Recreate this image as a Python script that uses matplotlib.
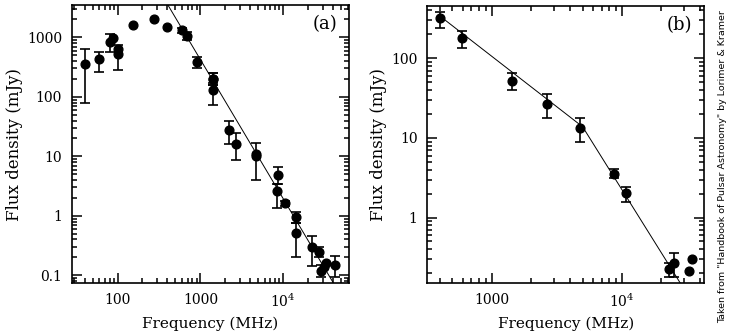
import numpy as np
import matplotlib.pyplot as plt
from matplotlib.ticker import FixedLocator, FuncFormatter, LogLocator, NullFormatter

plt.rcParams['font.family'] = 'DejaVu Serif'
plt.rcParams['mathtext.fontset'] = 'dejavuserif'

# panel (a): points with error bars (freq MHz, flux mJy, lower, upper)
a_freq = [40, 60, 81, 100, 1400, 592, 692, 912, 1400, 1400, 2228, 2656, 4700, 8550, 8500,
          10400, 14450, 14300, 22500, 27300, 28300, 42500]
a_flux = [360, 427, 845, 520, 200, 1328, 1067, 380, 200, 130, 27.7, 16.1, 10, 4.86, 2.65,
          1.62, 0.94, 0.51, 0.295, 0.244, 0.12, 0.149]
a_lo = [78, 265, 574, 282, 160, 1180, 900, 310, 160, 72, 16, 8.7, 4.0, 3.4, 1.34,
        1.45, 0.77, 0.206, 0.145, 0.2, 0.094, 0.094]
a_hi = [630, 574, 1123, 743, 255, 1450, 1250, 460, 255, 170, 39, 24.4, 17, 6.5, 3.4,
        1.8, 1.15, 0.75, 0.46, 0.3, 0.148, 0.207]
# panel (a): points without error bars
a_freq2 = [87, 102, 154, 273, 398, 4750, 30800, 33100]
a_flux2 = [986, 637, 1590, 2060, 1493, 11, 0.14, 0.159]
# fitted power law in (a)
a_fit_s1000 = 423
a_fit_index = -2.34

# panel (b)
b_freq = [400, 594, 1440, 2680, 4770, 8730, 10740, 23200, 25200]
b_flux = [318, 178, 52.3, 26.4, 13.2, 3.5, 2.01, 0.223, 0.27]
b_lo = [238, 134, 40, 17.9, 9.0, 3.1, 1.58, 0.18, 0.177]
b_hi = [385, 222, 65, 35.3, 17.6, 4.04, 2.4, 0.265, 0.36]
b_freq2 = [32700, 34800]
b_flux2 = [0.215, 0.303]
# broken power law in (b)
b_break = 5000
b_sbreak = 13.8
b_index1 = -1.27
b_index2 = -2.62


def fmt_x(v, pos):
    if v >= 1e4:
        return r'$10^{%d}$' % round(np.log10(v))
    return '%d' % v


def fmt_y(v, pos):
    if v < 1:
        return '%g' % v
    return '%d' % v


def style_axes(ax, xticks, yticks):
    ax.set_xscale('log')
    ax.set_yscale('log')
    ax.xaxis.set_major_locator(FixedLocator(xticks))
    ax.yaxis.set_major_locator(FixedLocator(yticks))
    ax.xaxis.set_minor_locator(LogLocator(base=10, subs=np.arange(2, 10)))
    ax.yaxis.set_minor_locator(LogLocator(base=10, subs=np.arange(2, 10)))
    ax.xaxis.set_major_formatter(FuncFormatter(fmt_x))
    ax.yaxis.set_major_formatter(FuncFormatter(fmt_y))
    ax.xaxis.set_minor_formatter(NullFormatter())
    ax.yaxis.set_minor_formatter(NullFormatter())
    ax.tick_params(which='both', direction='in', top=True, right=True, width=1.1, labelsize=10)
    ax.tick_params(which='major', length=7, pad=7)
    ax.tick_params(which='minor', length=3.5)
    for s in ax.spines.values():
        s.set_linewidth(1.2)
    ax.set_xlabel('Frequency (MHz)', fontsize=11, labelpad=5)
    ax.set_ylabel('Flux density (mJy)', fontsize=12, labelpad=3)


def draw_points(ax, f, s, lo, hi, f2, s2):
    s = np.array(s)
    yerr = [s - np.array(lo), np.array(hi) - s]
    ax.errorbar(f, s, yerr=yerr, fmt='o', color='black', ms=6.3, elinewidth=1.2,
                capsize=3.5, capthick=1.2)
    ax.plot(f2, s2, 'o', color='black', ms=6.3)


fig = plt.figure(figsize=(7.29, 3.33), dpi=100)
ax1 = fig.add_axes([0.0984, 0.150, 0.381, 0.835])
ax2 = fig.add_axes([0.586, 0.150, 0.380, 0.833])

# (a)
draw_points(ax1, a_freq, a_flux, a_lo, a_hi, a_freq2, a_flux2)
nu = np.logspace(np.log10(300), np.log10(70000), 200)
ax1.plot(nu, a_fit_s1000 * (nu / 1000.0) ** a_fit_index, color='black', lw=0.7)
ax1.set_xlim(28, 63000)
ax1.set_ylim(0.074, 3500)
style_axes(ax1, [100, 1000, 1e4], [0.1, 1, 10, 100, 1000])
ax1.text(0.955, 0.93, '(a)', transform=ax1.transAxes, ha='right', va='center', fontsize=13)

# (b)
draw_points(ax2, b_freq, b_flux, b_lo, b_hi, b_freq2, b_flux2)
nu1 = np.logspace(np.log10(405), np.log10(b_break), 50)
nu2 = np.logspace(np.log10(b_break), np.log10(60000), 50)
ax2.plot(nu1, b_sbreak * (nu1 / b_break) ** b_index1, color='black', lw=0.7)
ax2.plot(nu2, b_sbreak * (nu2 / b_break) ** b_index2, color='black', lw=0.7)
ax2.set_xlim(320, 42900)
ax2.set_ylim(0.15, 460)
style_axes(ax2, [1000, 1e4], [1, 10, 100])
ax2.text(0.955, 0.93, '(b)', transform=ax2.transAxes, ha='right', va='center', fontsize=13)

fig.text(0.991, 0.5, 'Taken from "Handbook of Pulsar Astronomy" by Lorimer & Kramer',
         rotation=90, ha='center', va='center', fontsize=6.8, family='DejaVu Sans')

fig.savefig('out.png', dpi=100)
